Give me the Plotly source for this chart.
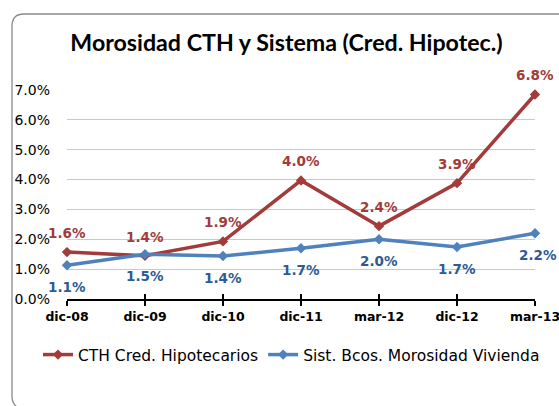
import plotly.graph_objects as go

categories = ["dic-08", "dic-09", "dic-10", "dic-11", "mar-12", "dic-12", "mar-13"]
cth = [1.57, 1.45, 1.93, 3.97, 2.44, 3.88, 6.85]
sist = [1.13, 1.50, 1.44, 1.70, 2.00, 1.74, 2.20]
cth_labels = ["1.6%", "1.4%", "1.9%", "4.0%", "2.4%", "3.9%", "6.8%"]
sist_labels = ["1.1%", "1.5%", "1.4%", "1.7%", "2.0%", "1.7%", "2.2%"]
y_ticks = [0, 1, 2, 3, 4, 5, 6, 7]
y_tick_text = ["0.0%", "1.0%", "2.0%", "3.0%", "4.0%", "5.0%", "6.0%", "7.0%"]

RED = "#A23B3A"
BLUE = "#4F81BD"
BLUE_TXT = "#2D5B94"

W, H = 559, 406
L, R, T, B = 67, 24, 90, 107
pw, ph = W - L - R, H - T - B

def px(x):
    return (x - L) / pw

def py(y):
    return (H - B - y) / ph

fig = go.Figure()
fig.add_trace(go.Scatter(
    x=categories, y=cth, mode="lines+markers", name="CTH Cred. Hipotecarios",
    line=dict(color=RED, width=3.5), marker=dict(symbol="diamond", size=8, color=RED),
    cliponaxis=False))
fig.add_trace(go.Scatter(
    x=categories, y=sist, mode="lines+markers", name="Sist. Bcos. Morosidad Vivienda",
    line=dict(color=BLUE, width=3.5), marker=dict(symbol="diamond", size=8, color=BLUE),
    cliponaxis=False))
# hidden trace to drive the overlay axis with inside ticks
fig.add_trace(go.Scatter(x=categories, y=[None]*len(categories), xaxis="x2", yaxis="y",
                         showlegend=False, hoverinfo="skip"))

annots = []
for i, c in enumerate(categories):
    annots.append(dict(x=c, y=cth[i], text=cth_labels[i], showarrow=False, yshift=19,
                       font=dict(family="DejaVu Sans", size=13.5, color=RED, weight="bold")))
    xs = 3 if i == len(categories) - 1 else 0
    annots.append(dict(x=c, y=sist[i], text=sist_labels[i], showarrow=False, yshift=-22, xshift=xs,
                       font=dict(family="DejaVu Sans", size=13.5, color=BLUE_TXT, weight="bold")))

border = (f"M {px(12)},{py(396)} L {px(12)},{py(26)} Q {px(12)},{py(14)} {px(24)},{py(14)} "
          f"L {px(570)},{py(14)} M {px(12)},{py(396)} Q {px(12)},{py(406)} {px(22)},{py(410)}")

fig.update_layout(
    width=W, height=H,
    margin=dict(l=L, r=R, t=T, b=B, autoexpand=False),
    paper_bgcolor="white", plot_bgcolor="white",
    title=dict(text="<b>Morosidad CTH y Sistema (Cred. Hipotec.)</b>", x=286.5 / W, xanchor="center",
               xref="container", y=1 - 43 / H, yanchor="middle",
               font=dict(family="Lato", size=23.2, color="black")),
    xaxis=dict(type="category", range=[0, 6], showgrid=False, showline=True, linecolor="black",
               linewidth=1.5, ticks="outside", ticklen=5, tickcolor="black", tickwidth=1.5,
               tickfont=dict(family="DejaVu Sans", size=12.5, color="black", weight="bold"),
               zeroline=False, fixedrange=True),
    xaxis2=dict(type="category", range=[0, 6], overlaying="x", showgrid=False, showline=False,
                ticks="inside", ticklen=5, tickcolor="black", tickwidth=1.5, showticklabels=False,
                side="bottom", matches="x"),
    yaxis=dict(range=[0, 7], tickvals=y_ticks, ticktext=y_tick_text, showgrid=True,
               gridcolor="#c9c9c9", gridwidth=1, zeroline=False, showline=False, ticks="",
               ticklabelstandoff=16,
               tickfont=dict(family="DejaVu Sans", size=14, color="black")),
    legend=dict(orientation="h", x=px(38), xanchor="left", y=py(355), yanchor="middle",
                font=dict(family="DejaVu Sans", size=15.5, color="black"),
                itemwidth=30, tracegroupgap=0, bgcolor="rgba(0,0,0,0)"),
    annotations=annots,
    shapes=[dict(type="path", path=border, xref="paper", yref="paper",
                 line=dict(color="#8a8a8a", width=1.3), layer="below")],
    showlegend=True,
)

fig.write_html("out.html", config={"displayModeBar": False},
               post_script="document.body.style.margin='0';document.body.style.padding='0';")
